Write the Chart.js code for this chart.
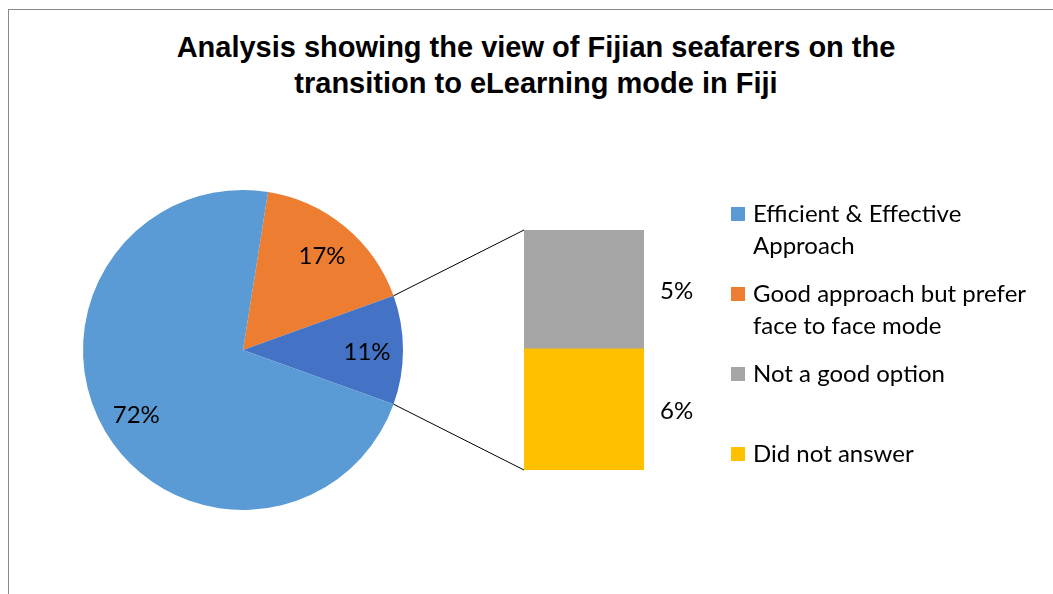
<!DOCTYPE html>
<html>
<head>
<meta charset="utf-8">
<script src="https://cdn.jsdelivr.net/npm/chart.js@4"></script>
<style>
body{margin:0;background:#fff;}
#wrap{position:relative;width:1053px;height:594px;overflow:hidden;font-family:Lato,"Noto Sans",sans-serif;}
#frame{position:absolute;left:8px;top:9px;width:1100px;height:700px;border-left:1px solid #8a8a8a;border-top:1px solid #8a8a8a;}
#title{position:absolute;left:0;top:29px;width:1072px;text-align:center;font:bold 29px "Liberation Sans",Arial,sans-serif;line-height:36px;color:#000;}
canvas{position:absolute;left:0;top:0;}
#legend{position:absolute;left:731px;top:197px;}
.item{position:relative;height:80px;padding-left:22px;width:290px;font-size:24px;line-height:32px;color:#000;}
.box{position:absolute;left:0;top:10px;width:14px;height:14px;}
</style>
</head>
<body>
<div id="wrap">
<div id="frame"></div>
<div id="title">Analysis showing the view of Fijian seafarers on the<br>transition to eLearning mode in Fiji</div>
<canvas id="pie" width="1053" height="594"></canvas>
<canvas id="bar" width="1053" height="594"></canvas>
<div id="legend"></div>
</div>
<script>
// pie: the blue "other" slice is split into the bar
const pieLabels = ["Good approach but prefer face to face mode","Other","Efficient & Effective Approach"];
const pieValues = [17, 11, 72];
const pieColors = ["#ED7D31","#4472C4","#5B9BD5"];

// bar, bottom to top
const barLabels = ["Did not answer","Not a good option"];
const barValues = [5.55, 5.45];
const barColors = ["#FFC000","#A5A5A5"];

const legendLabels = ["Efficient & Effective Approach","Good approach but prefer face to face mode","Not a good option","Did not answer"];
const legendColors = ["#5B9BD5","#ED7D31","#A5A5A5","#FFC000"];

const labelFont = "24px Lato";

const pieText = {
  id:"pieText",
  afterDatasetsDraw(chart){
    const ctx = chart.ctx;
    ctx.save();
    ctx.font = labelFont;
    ctx.fillStyle = "#000";
    ctx.textAlign = "center";
    ctx.textBaseline = "middle";
    chart.getDatasetMeta(0).data.forEach((arc,i)=>{
      const a = (arc.startAngle+arc.endAngle)/2;
      const r = arc.outerRadius*0.775;
      ctx.fillText(Math.round(pieValues[i])+"%", arc.x+Math.cos(a)*r, arc.y+Math.sin(a)*r+2);
    });
    ctx.restore();
  }
};

const pieChart = new Chart(document.getElementById("pie"),{
  type:"pie",
  data:{
    labels:pieLabels,
    datasets:[{
      data:pieValues,
      backgroundColor:pieColors,
      borderWidth:0,
      radius:160
    }]
  },
  options:{
    responsive:false,
    animation:false,
    rotation:9,
    layout:{padding:{left:83,right:650,top:190,bottom:84}},
    plugins:{legend:{display:false},tooltip:{enabled:false}}
  },
  plugins:[pieText]
});

const barText = {
  id:"barText",
  afterDatasetsDraw(chart){
    const ctx = chart.ctx;
    ctx.save();
    ctx.font = labelFont;
    ctx.fillStyle = "#000";
    ctx.textAlign = "left";
    ctx.textBaseline = "middle";
    barLabels.forEach((l,i)=>{
      const b = chart.getDatasetMeta(i).data[0];
      ctx.fillText(Math.round(barValues[i])+"%", b.x+b.width/2+16, (b.y+b.base)/2+2);
    });

    // connector lines from the split slice to the bar
    const arc = pieChart.getDatasetMeta(0).data[1];
    const top = chart.getDatasetMeta(barLabels.length-1).data[0];
    const bottom = chart.getDatasetMeta(0).data[0];
    ctx.strokeStyle = "#000";
    ctx.lineWidth = 1;
    ctx.beginPath();
    ctx.moveTo(arc.x+Math.cos(arc.startAngle)*arc.outerRadius, arc.y+Math.sin(arc.startAngle)*arc.outerRadius);
    ctx.lineTo(top.x-top.width/2, top.y);
    ctx.moveTo(arc.x+Math.cos(arc.endAngle)*arc.outerRadius, arc.y+Math.sin(arc.endAngle)*arc.outerRadius);
    ctx.lineTo(bottom.x-bottom.width/2, bottom.base);
    ctx.stroke();
    ctx.restore();
  }
};

new Chart(document.getElementById("bar"),{
  type:"bar",
  data:{
    labels:["Other"],
    datasets:barLabels.map((l,i)=>({
      label:l,
      data:[barValues[i]],
      backgroundColor:barColors[i],
      borderWidth:0,
      categoryPercentage:1,
      barPercentage:1
    }))
  },
  options:{
    responsive:false,
    animation:false,
    layout:{padding:{left:524,right:409,top:230,bottom:124}},
    scales:{
      x:{display:false,stacked:true},
      y:{display:false,stacked:true,min:0,max:barValues.reduce((a,b)=>a+b,0)}
    },
    plugins:{legend:{display:false},tooltip:{enabled:false}}
  },
  plugins:[barText]
});

const legend = document.getElementById("legend");
legendLabels.forEach((l,i)=>{
  const d = document.createElement("div");
  d.className = "item";
  d.innerHTML = '<span class="box" style="background:'+legendColors[i]+'"></span>'+l;
  legend.appendChild(d);
});
</script>
</body>
</html>
